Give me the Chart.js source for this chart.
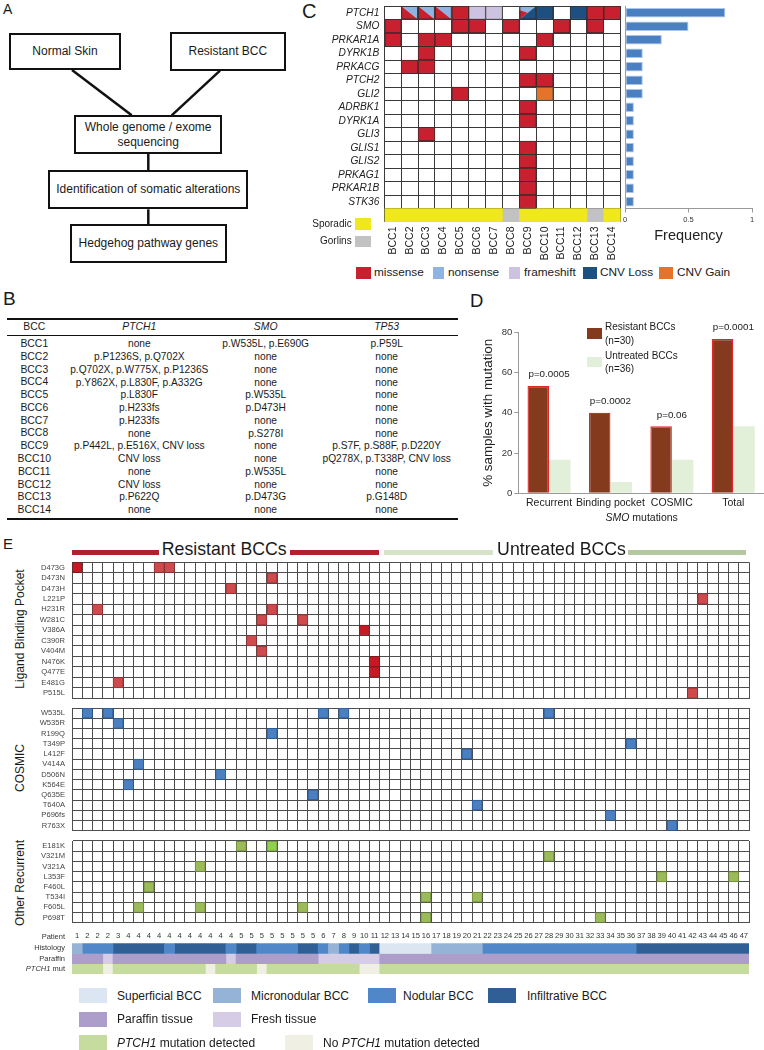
<!DOCTYPE html>
<html>
<head>
<meta charset="utf-8">
<script src="https://cdn.jsdelivr.net/npm/chart.js@4.4.1/dist/chart.umd.min.js"></script>
<style>
  body { margin: 0; background: #fff; }
  #page { position: relative; width: 764px; height: 1050px; overflow: hidden;
          font-family: 'Liberation Sans', Arial, Helvetica, sans-serif; color: #1a1a1a; }
  .txt { position: absolute; white-space: nowrap; }
  .rect { position: absolute; box-sizing: border-box; }
  .flow { position: absolute; box-sizing: border-box; border: 2.5px solid #111; display: flex;
          align-items: center; justify-content: center; text-align: center; font-size: 12px; line-height: 15px; }
  canvas { position: absolute; }
</style>
</head>
<body>
<div id="page">
  <svg width="300" height="280" style="position:absolute;left:0;top:0">
    <g stroke="#111" stroke-width="2.5">
      <line x1="72" y1="70" x2="131.7" y2="115.3"/>
      <line x1="220" y1="70.7" x2="171.7" y2="115.3"/>
      <line x1="148.3" y1="154" x2="148.3" y2="170"/>
      <line x1="148.3" y1="209.3" x2="148.3" y2="224"/>
    </g>
  </svg>
</div>
<script>
// ---------- panel B table ----------
var bccNames = ['BCC1','BCC2','BCC3','BCC4','BCC5','BCC6','BCC7','BCC8','BCC9','BCC10','BCC11','BCC12','BCC13','BCC14'];
var ptch1Calls = ['none','p.P1236S, p.Q702X','p.Q702X, p.W775X, p.P1236S','p.Y862X, p.L830F, p.A332G','p.L830F',
  'p.H233fs','p.H233fs','none','p.P442L, p.E516X, CNV loss','CNV loss','none','CNV loss','p.P622Q','none'];
var smoCalls = ['p.W535L, p.E690G','none','none','none','p.W535L','p.D473H','none','p.S278I','none','none',
  'p.W535L','none','p.D473G','none'];
var tp53Calls = ['p.P59L','none','none','none','none','none','none','none','p.S7F, p.S88F, p.D220Y',
  'pQ278X, p.T338P, CNV loss','none','none','p.G148D','none'];

// ---------- panel C ----------
var genes = ['PTCH1','SMO','PRKAR1A','DYRK1B','PRKACG','PTCH2','GLI2','ADRBK1','DYRK1A','GLI3','GLIS1','GLIS2','PRKAG1','PRKAR1B','STK36'];
var geneFrequency = [0.79, 0.5, 0.29, 0.14, 0.14, 0.14, 0.14, 0.07, 0.07, 0.07, 0.07, 0.07, 0.07, 0.07, 0.07];
var missense = [['PTCH1',5],['PTCH1',13],['PTCH1',14],['SMO',1],['SMO',5],['SMO',6],['SMO',8],['SMO',11],['SMO',13],
  ['PRKAR1A',1],['PRKAR1A',3],['PRKAR1A',4],['PRKAR1A',10],['DYRK1B',3],['DYRK1B',9],['PRKACG',2],['PRKACG',3],
  ['PTCH2',9],['PTCH2',10],['GLI2',5],['ADRBK1',9],['DYRK1A',9],['GLI3',3],['GLIS1',9],['GLIS2',9],['PRKAG1',9],
  ['PRKAR1B',9],['STK36',9]];
var frameshift = [['PTCH1',6],['PTCH1',7]];
var cnvLoss = [['PTCH1',10],['PTCH1',12]];
var cnvGain = [['GLI2',10]];
var splitCells = [['PTCH1',2,'nonsense','missense'],['PTCH1',3,'nonsense','missense'],['PTCH1',4,'nonsense','missense'],
  ['PTCH1',9,'nonsense','missense','cnvLoss']];
var bccStatus = ['S','S','S','S','S','S','S','G','S','S','S','S','G','S'];

// ---------- panel D ----------
var smoCategories = ['Recurrent','Binding pocket','COSMIC','Total'];
var resistantPct = [53.3, 40.0, 33.3, 76.7];
var untreatedPct = [16.7, 5.6, 16.7, 33.3];
var pValues = ['p=0.0005','p=0.0002','p=0.06','p=0.0001'];

// ---------- panel E ----------
var ligandRows = ['D473G','D473N','D473H','L221P','H231R','W281C','V386A','C390R','V404M','N476K','Q477E','E481G','P515L'];
var ligandStrong = [['D473G',1],['V386A',29],['N476K',30],['Q477E',30]];
var ligandMarks = [['D473G',9],['D473G',10],['D473N',20],['D473H',16],['L221P',62],['H231R',3],['H231R',20],
  ['W281C',19],['W281C',23],['C390R',18],['V404M',19],['E481G',5],['P515L',61]];
var cosmicRows = ['W535L','W535R','R199Q','T349P','L412F','V414A','D506N','K564E','Q635E','T640A','P696fs','R763X'];
var cosmicMarks = [['W535L',2],['W535L',4],['W535L',25],['W535L',27],['W535L',47],['W535R',5],['R199Q',20],
  ['T349P',55],['L412F',39],['V414A',7],['D506N',15],['K564E',6],['Q635E',24],['T640A',40],['P696fs',53],['R763X',59]];
var otherRows = ['E181K','V321M','V321A','L353F','F460L','T534I','F605L','P698T'];
var otherMarks = [['E181K',17],['V321M',47],['V321A',13],['L353F',58],['L353F',65],['F460L',8],['T534I',35],
  ['T534I',40],['F605L',7],['F605L',13],['F605L',23],['P698T',35],['P698T',52]];
var otherBright = [['E181K',20]];
var patients = [1,2,2,2,3,4,4,4,4,4,4,4,4,4,4,4,5,5,5,5,5,5,5,5,6,7,8,9,10,11,
  12,13,14,15,16,17,18,19,20,21,22,23,24,25,26,27,28,29,30,31,32,33,34,35,36,37,38,39,40,41,42,43,44,45,46,47];
var histology = ['M','N','N','N','I','I','I','I','I','N','I','I','I','I','I','N','I','I','N','N','N','N','I','I','N','M','N','I','N','I',
  'S','S','S','S','S','M','M','M','M','M','N','N','N','N','N','N','N','N','N','N','N','N','N','N','N',
  'I','I','I','I','I','I','I','I','I','I','I'];
var tissue = ['P','P','P','F','P','P','P','P','P','P','P','P','P','P','P','F','P','P','P','P','P','P','P','P','F','F','F','F','F','F',
  'P','P','P','P','P','P','P','P','P','P','P','P','P','P','P','P','P','P','P','P','P','P','P','P','P','P','P','P','P','P','P','P','P','P','P','P'];
var ptch1Mut = ['Y','Y','Y','N','Y','Y','Y','Y','Y','Y','Y','Y','Y','N','Y','Y','Y','Y','N','Y','Y','Y','Y','Y','Y','Y','Y','Y','N','N',
  'Y','Y','Y','Y','Y','Y','Y','Y','Y','Y','Y','Y','Y','Y','Y','Y','Y','Y','Y','Y','Y','Y','Y','Y','Y','Y','Y','Y','Y','Y','Y','Y','Y','Y','Y','Y'];

var mutColors = { missense: '#c9202f', nonsense: '#8db4e2', frameshift: '#cdc2df', cnvLoss: '#1d4f80', cnvGain: '#e5732a' };
var histColors = { S: '#dce6f2', M: '#95b3d7', N: '#4f87c8', I: '#2f5f95' };
var tissueColors = { P: '#ad9dca', F: '#d6cce5' };
var ptchColors = { Y: '#c6dc9e', N: '#efefe4' };
var FONT = "'Liberation Sans', Arial, Helvetica, sans-serif";

Chart.defaults.font.family = FONT;
Chart.defaults.color = '#222';
Chart.defaults.animation = false;

var page = document.getElementById('page');

function addText(html, x, cy, size, align, extra) {
  var d = document.createElement('div');
  d.className = 'txt';
  d.innerHTML = html;
  d.style.fontSize = size + 'px';
  d.style.lineHeight = size + 'px';
  d.style.top = (cy - size / 2) + 'px';
  d.style.left = x + 'px';
  if (align === 'center') d.style.transform = 'translateX(-50%)';
  if (align === 'right') d.style.transform = 'translateX(-100%)';
  if (align === 'vertical') d.style.transform = 'translateX(-50%) rotate(-90deg)';
  if (extra) Object.assign(d.style, extra);
  page.appendChild(d);
  return d;
}

function addRect(x, y, w, h, color, extra) {
  var d = document.createElement('div');
  d.className = 'rect';
  d.style.cssText += 'left:' + x + 'px;top:' + y + 'px;width:' + w + 'px;height:' + h + 'px;background:' + color;
  if (extra) Object.assign(d.style, extra);
  page.appendChild(d);
  return d;
}

function addFlow(html, x, y, w, h) {
  var d = document.createElement('div');
  d.className = 'flow';
  d.innerHTML = html;
  d.style.left = x + 'px'; d.style.top = y + 'px'; d.style.width = w + 'px'; d.style.height = h + 'px';
  page.appendChild(d);
}

function addCanvas(x, y, w, h) {
  var c = document.createElement('canvas');
  c.width = w; c.height = h;
  c.style.left = x + 'px'; c.style.top = y + 'px';
  c.style.width = w + 'px'; c.style.height = h + 'px';
  page.appendChild(c);
  return c;
}

// fixed axis box size, no label overhang padding
function fixSize(w, h) {
  return function (s) {
    if (w !== undefined) s.width = w;
    if (h !== undefined) s.height = h;
    s.paddingTop = 0; s.paddingBottom = 0; s.paddingLeft = 0; s.paddingRight = 0;
  };
}

function cells(marks) {
  return marks.map(function (m) { return { y: m[0], x: [m[1] - 1, m[1]] }; });
}

function runs(codes, row) {
  var out = [], s = 0;
  for (var i = 1; i <= codes.length; i++) {
    if (i === codes.length || codes[i] !== codes[s]) {
      out.push({ code: codes[s], y: row, x: [s, i] });
      s = i;
    }
  }
  return out;
}

function runDatasets(codes, row, colors) {
  var r = runs(codes, row);
  return Object.keys(colors).map(function (k) {
    return {
      data: r.filter(function (d) { return d.code === k; }).map(function (d) { return { y: d.y, x: d.x }; }),
      backgroundColor: colors[k], borderWidth: 0
    };
  });
}

// ---------- panel letters ----------
addText('A', 3, 9, 14);
addText('B', 3, 298.7, 19);
addText('C', 302, 10.8, 20);
addText('D', 470, 301.7, 18.5);
addText('E', 3, 543.3, 15);

// ---------- panel A ----------
addFlow('Normal Skin', 9.3, 32.7, 111.4, 37.3);
addFlow('Resistant BCC', 170, 31.7, 115.7, 39);
addFlow('Whole genome / exome<br>sequencing', 74, 115.3, 148.3, 38.7);
addFlow('Identification of somatic alterations', 48.3, 170, 200, 39.3);
addFlow('Hedgehog pathway genes', 70, 224, 156.7, 39.3);

// ---------- panel B ----------
addRect(6.7, 318, 451.5, 2, '#111');
addRect(6.7, 334.8, 451.5, 1.4, '#111');
addRect(6.7, 517.7, 451.5, 2, '#111');
var colX = [34.3, 139.3, 265.7, 386.7];
addText('BCC', colX[0], 327, 10.4, 'center');
addText('<i>PTCH1</i>', colX[1], 327, 10.4, 'center');
addText('<i>SMO</i>', colX[2], 327, 10.4, 'center');
addText('<i>TP53</i>', colX[3], 327, 10.4, 'center');
bccNames.forEach(function (b, i) {
  var cy = 344.3 + 12.77 * i;
  addText(b, colX[0], cy, 10.4, 'center');
  addText(ptch1Calls[i], colX[1], cy, 10.2, 'center');
  addText(smoCalls[i], colX[2], cy, 10.2, 'center');
  addText(tp53Calls[i], colX[3], cy, 10.2, 'center');
});

// ---------- panel C: oncoprint ----------
var cRows = genes.concat(['status']);
var splitShapes = {
  2: [[[0,0],[1,0],[1,1]], [[0,0],[1,1],[0,1]]],
  3: [[[0,0],[1,0],[0.5,0.5],[0,0.3]], [[0,0.3],[0.5,0.5],[0,1]], [[1,0],[1,1],[0,1]]]
};
var splitPlugin = {
  id: 'splitCells',
  afterDatasetsDraw: function (chart) {
    var ctx = chart.ctx, xs = chart.scales.x, ys = chart.scales.y;
    var half = Math.abs(ys.getPixelForValue(1) - ys.getPixelForValue(0)) / 2;
    ctx.save();
    splitCells.forEach(function (c) {
      var types = c.slice(2);
      var x0 = xs.getPixelForValue(c[1] - 1), x1 = xs.getPixelForValue(c[1]);
      var yc = ys.getPixelForValue(genes.indexOf(c[0])), y0 = yc - half, y1 = yc + half;
      splitShapes[types.length].forEach(function (poly, k) {
        ctx.beginPath();
        poly.forEach(function (p, j) {
          var px = x0 + (x1 - x0) * p[0], py = y0 + (y1 - y0) * p[1];
          if (j === 0) ctx.moveTo(px, py); else ctx.lineTo(px, py);
        });
        ctx.closePath();
        ctx.fillStyle = mutColors[types[k]];
        ctx.fill();
      });
      ctx.strokeStyle = '#333';
      ctx.lineWidth = 1;
      ctx.strokeRect(x0 + 0.5, y0 + 0.5, x1 - x0 - 1, y1 - y0 - 1);
    });
    ctx.restore();
  }
};

var cDatasets = [
  { data: cells(missense), backgroundColor: mutColors.missense, borderColor: '#3a2a2a', borderWidth: 1 },
  { data: cells(frameshift), backgroundColor: mutColors.frameshift, borderColor: '#555', borderWidth: 1 },
  { data: cells(cnvLoss), backgroundColor: mutColors.cnvLoss, borderColor: '#333', borderWidth: 1 },
  { data: cells(cnvGain), backgroundColor: mutColors.cnvGain, borderColor: '#555', borderWidth: 1 }
].concat(runDatasets(bccStatus, 'status', { S: '#efe81f', G: '#c2c2c2' }));

new Chart(addCanvas(300, 0, 322, 262), {
  type: 'bar',
  data: { labels: cRows, datasets: cDatasets },
  plugins: [splitPlugin],
  options: {
    indexAxis: 'y', responsive: false,
    layout: { padding: { top: 6, right: 1.3, left: 0, bottom: 0 } },
    plugins: { legend: { display: false }, tooltip: { enabled: false } },
    datasets: { bar: { grouped: false, barPercentage: 1, categoryPercentage: 1, borderSkipped: false } },
    scales: {
      x: { type: 'linear', min: 0, max: 14, ticks: { display: false, stepSize: 1 },
           grid: { color: '#3a3a3a', drawTicks: false }, border: { display: false }, afterFit: fixSize(undefined, 0) },
      x2: { type: 'category', axis: 'x', position: 'bottom', labels: bccNames, offset: true,
            grid: { display: false, drawTicks: false }, border: { display: false },
            ticks: { autoSkip: false, minRotation: 90, maxRotation: 90, padding: 4.5, font: { size: 10.5 }, color: '#222' },
            afterFit: fixSize(undefined, 40) },
      y: { type: 'category', labels: cRows, offset: true,
           grid: { offset: true, drawTicks: false,
                   color: function (c) { return c.index === undefined ? 'rgba(0,0,0,0)' : '#3a3a3a'; } },
           border: { display: false },
           ticks: { autoSkip: false, padding: 5, font: { size: 10.2, style: 'italic' }, color: '#222',
                    callback: function (v, i) { return cRows[i] === 'status' ? '' : cRows[i]; } },
           afterFit: fixSize(84.3) }
    }
  }
});

// panel C: frequency bars
new Chart(addCanvas(620, 0, 144, 254), {
  type: 'bar',
  data: { labels: genes, datasets: [{ data: geneFrequency, backgroundColor: '#4a7fc2', borderColor: '#a9c5e9',
                                      borderWidth: 1, borderSkipped: false, barPercentage: 0.7, categoryPercentage: 1 }] },
  options: {
    indexAxis: 'y', responsive: false,
    layout: { padding: { top: 6, right: 12, left: 5, bottom: 0 } },
    plugins: { legend: { display: false }, tooltip: { enabled: false } },
    scales: {
      x: { min: 0, max: 1, ticks: { stepSize: 0.5, font: { size: 7.5 }, color: '#333', padding: 3,
                                    callback: function (v) { return String(v); } },
           grid: { drawOnChartArea: false, drawTicks: true, tickLength: 4, color: '#999' },
           border: { color: '#999' },
           title: { display: true, text: 'Frequency', font: { size: 14.5 }, color: '#222', padding: { top: 4, bottom: 9.4 } },
           afterFit: fixSize(undefined, 45.5) },
      y: { ticks: { display: false }, grid: { display: false, drawTicks: false }, border: { color: '#999' }, afterFit: fixSize(0) }
    }
  }
});

// panel C legends
addText('Sporadic', 351.7, 224.3, 10, 'right');
addRect(355, 218, 16, 12, '#efe81f');
addText('Gorlins', 351.7, 240.5, 10, 'right');
addRect(355, 235.5, 16, 11, '#c2c2c2');
[['missense', mutColors.missense, 356, 14.7, 374],
 ['nonsense', mutColors.nonsense, 433.3, 11, 448],
 ['frameshift', mutColors.frameshift, 509.3, 11, 524],
 ['CNV Loss', mutColors.cnvLoss, 582.7, 14, 600],
 ['CNV Gain', mutColors.cnvGain, 659.3, 14, 677]].forEach(function (l) {
  addRect(l[2], 267, l[3], 12, l[1]);
  addText(l[0], l[4], 273.3, 11.8);
});

// ---------- panel D ----------
var pLabelPlugin = {
  id: 'pLabels',
  afterDatasetsDraw: function (chart) {
    var ctx = chart.ctx, m0 = chart.getDatasetMeta(0), m1 = chart.getDatasetMeta(1);
    ctx.save();
    ctx.font = '9.8px ' + FONT;
    ctx.fillStyle = '#222';
    ctx.textAlign = 'center';
    ctx.textBaseline = 'middle';
    pValues.forEach(function (p, i) {
      var top = Math.min(m0.data[i].y, m1.data[i].y);
      ctx.fillText(p, chart.scales.x.getPixelForValue(i), top - 11.3);
    });
    ctx.restore();
  }
};

new Chart(addCanvas(476, 310, 288, 204), {
  type: 'bar',
  data: {
    labels: smoCategories,
    datasets: [
      { label: 'Resistant BCCs (n=30)', data: resistantPct, backgroundColor: '#843b1d', borderColor: '#e3242b', borderWidth: 1.3 },
      { label: 'Untreated BCCs (n=36)', data: untreatedPct, backgroundColor: '#e3f0d9', borderWidth: 0 }
    ]
  },
  plugins: [pLabelPlugin],
  options: {
    responsive: false,
    layout: { padding: { top: 22.3, right: 0, left: 0, bottom: 0 } },
    plugins: { legend: { display: false }, tooltip: { enabled: false } },
    datasets: { bar: { categoryPercentage: 0.7, barPercentage: 1 } },
    scales: {
      x: { grid: { display: false, drawTicks: false }, border: { color: '#9a9a9a' },
           ticks: { autoSkip: false, maxRotation: 0, minRotation: 0, padding: 4, font: { size: 10.5 }, color: '#222' },
           afterFit: fixSize(undefined, 20.7) },
      y: { min: 0, max: 80, ticks: { stepSize: 20, font: { size: 9.5 }, color: '#333', padding: 2 },
           grid: { drawOnChartArea: false, drawTicks: true, tickLength: 4, color: '#9a9a9a' },
           border: { color: '#9a9a9a' },
           title: { display: true, text: '% samples with mutation', font: { size: 13.4 }, color: '#222', padding: { top: 4, bottom: 0 } },
           afterFit: fixSize(42.3) }
    }
  }
});
addText('<i>SMO</i> mutations', 641.7, 517.3, 10.5, 'center');
addRect(587.3, 328.3, 14.4, 11, '#843b1d');
addText('Resistant BCCs', 605, 327.3, 10);
addText('(n=30)', 605, 341, 10);
addRect(587.3, 356.7, 14.4, 10.6, '#e3f0d9');
addText('Untreated BCCs', 605, 356, 10);
addText('(n=36)', 605, 369.3, 10);

// ---------- panel E ----------
addRect(72, 550, 87, 5, '#b0212b');
addRect(290, 550, 89, 5, '#b0212b');
addText('Resistant BCCs', 224.2, 549.5, 17.7, 'center');
addRect(384, 550, 109, 5, '#d6e3c9');
addRect(628, 550, 118, 5, '#b5c79f');
addText('Untreated BCCs', 561.5, 549.5, 17.7, 'center');
addText('Ligand Binding Pocket', 20, 629, 12, 'vertical');
addText('COSMIC', 20, 767.5, 12, 'vertical');
addText('Other Recurrent', 20, 883, 12, 'vertical');

var GRID = '#4d4d4d';
function gridChart(box, rows, layers, pad) {
  return new Chart(addCanvas(box[0], box[1], box[2], box[3]), {
    type: 'bar',
    data: {
      labels: rows,
      datasets: layers.map(function (l) {
        return { data: cells(l.marks), backgroundColor: l.color, borderColor: l.border, borderWidth: 1 };
      })
    },
    options: {
      indexAxis: 'y', responsive: false,
      layout: { padding: pad },
      plugins: { legend: { display: false }, tooltip: { enabled: false } },
      datasets: { bar: { grouped: false, barPercentage: 1, categoryPercentage: 1, borderSkipped: false } },
      scales: {
        x: { type: 'linear', min: 0, max: patients.length, ticks: { display: false, stepSize: 1 },
             grid: { color: GRID, drawTicks: false }, border: { color: GRID }, afterFit: fixSize(undefined, 0) },
        y: { type: 'category', labels: rows, offset: true,
             ticks: { autoSkip: false, padding: 7, font: { size: 7.6 }, color: '#444' },
             grid: { offset: true, color: GRID, drawTicks: false }, border: { color: GRID },
             afterFit: fixSize(70) }
      }
    }
  });
}

gridChart([2, 561, 748, 139], ligandRows, [
  { marks: ligandMarks, color: '#cf4a4c', border: '#8e3033' },
  { marks: ligandStrong, color: '#c51a24', border: '#7a1a1e' }
], { top: 1.3, bottom: 1.7, left: 0, right: 1 });

gridChart([2, 707, 748, 125], cosmicRows, [
  { marks: cosmicMarks, color: '#4a7fc2', border: '#2b5a94' }
], { top: 1, bottom: 1.3, left: 0, right: 1 });

gridChart([2, 840, 748, 84], otherRows, [
  { marks: otherMarks, color: '#9bbb59', border: '#6d873c' },
  { marks: otherBright, color: '#92d050', border: '#6d9a3a' }
], { top: 1, bottom: 1.3, left: 0, right: 1 });

// annotation rows
var annRows = ['Histology', 'Paraffin', 'PTCH1 mut'];
new Chart(addCanvas(2, 928, 748, 47), {
  type: 'bar',
  data: {
    labels: annRows,
    datasets: runDatasets(histology, 'Histology', histColors)
      .concat(runDatasets(tissue, 'Paraffin', tissueColors))
      .concat(runDatasets(ptch1Mut, 'PTCH1 mut', ptchColors))
  },
  options: {
    indexAxis: 'y', responsive: false,
    layout: { padding: { top: 0, bottom: 1, left: 0, right: 1 } },
    plugins: { legend: { display: false }, tooltip: { enabled: false } },
    datasets: { bar: { grouped: false, barPercentage: 1, categoryPercentage: 1 } },
    scales: {
      x: { type: 'linear', min: 0, max: patients.length, display: false },
      x2: { type: 'category', axis: 'x', position: 'top', labels: patients.map(String), offset: true,
            grid: { display: false, drawTicks: false }, border: { display: false },
            ticks: { autoSkip: false, minRotation: 0, maxRotation: 0, padding: 2.5, font: { size: 7.6 }, color: '#333' },
            afterFit: fixSize(undefined, 15.3) },
      y: { type: 'category', labels: annRows, offset: true, grid: { display: false, drawTicks: false }, border: { display: false },
           ticks: { autoSkip: false, padding: 7, font: { size: 7.5 }, color: '#333',
                    callback: function (v, i) { return i === 2 ? '' : annRows[i]; } },
           afterFit: fixSize(70) }
    }
  }
});
addText('Patient', 65, 936.3, 7.5, 'right', { color: '#333' });
addText('<i>PTCH1</i> mut', 65, 968.9, 7.5, 'right', { color: '#333' });

// panel E legend
[['Superficial BCC', histColors.S, 79, 117, 995.5],
 ['Micronodular BCC', histColors.M, 213, 251, 995.5],
 ['Nodular BCC', histColors.N, 368, 403, 995.5],
 ['Infiltrative BCC', histColors.I, 488, 527, 995.5],
 ['Paraffin tissue', tissueColors.P, 79, 117, 1019],
 ['Fresh tissue', tissueColors.F, 213, 251, 1019],
 ['<i>PTCH1</i> mutation detected', ptchColors.Y, 79, 117, 1042.5],
 ['No <i>PTCH1</i> mutation detected', ptchColors.N, 285, 323, 1042.5]].forEach(function (l) {
  addRect(l[2], l[4] - 7.5, 28, 15, l[1]);
  addText(l[0], l[3], l[4], 12);
});
</script>
</body>
</html>
